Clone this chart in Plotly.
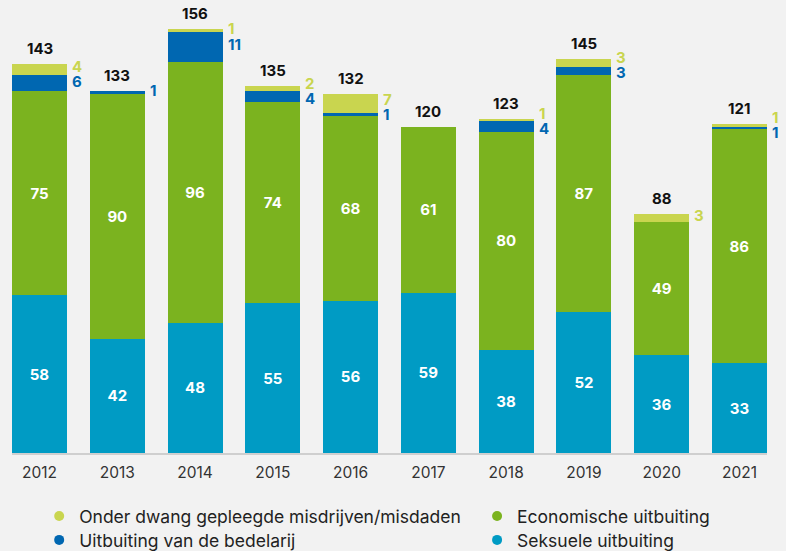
import plotly.graph_objects as go

years = ["2012", "2013", "2014", "2015", "2016", "2017", "2018", "2019", "2020", "2021"]
seksuele = [58, 42, 48, 55, 56, 59, 38, 52, 36, 33]
economische = [75, 90, 96, 74, 68, 61, 80, 87, 49, 86]
bedelarij = [6, 1, 11, 4, 1, 0, 4, 3, 0, 1]
onder_dwang = [4, 0, 1, 2, 7, 0, 1, 3, 3, 1]

names = {
    "od": "Onder dwang gepleegde misdrijven/misdaden",
    "ec": "Economische uitbuiting",
    "bd": "Uitbuiting van de bedelarij",
    "sx": "Seksuele uitbuiting",
}
colors = {"od": "#c9d54f", "ec": "#7bb31f", "bd": "#0067b1", "sx": "#009bc4"}

FONT = "Inter"
BG = "#f2f2f2"

fig = go.Figure()

inner_font = dict(family=FONT, size=15, color="white", weight="bold")

fig.add_trace(go.Bar(x=years, y=seksuele, marker_color=colors["sx"], marker_line_width=0,
                     text=[str(v) for v in seksuele], textposition="inside",
                     insidetextanchor="middle", textangle=0, textfont=inner_font,
                     showlegend=False, hoverinfo="skip", constraintext="none"))
fig.add_trace(go.Bar(x=years, y=economische, marker_color=colors["ec"], marker_line_width=0,
                     text=[str(v) for v in economische], textposition="inside",
                     insidetextanchor="middle", textangle=0, textfont=inner_font,
                     showlegend=False, hoverinfo="skip", constraintext="none"))
fig.add_trace(go.Bar(x=years, y=bedelarij, marker_color=colors["bd"], marker_line_width=0,
                     showlegend=False, hoverinfo="skip"))
fig.add_trace(go.Bar(x=years, y=onder_dwang, marker_color=colors["od"], marker_line_width=0,
                     showlegend=False, hoverinfo="skip"))

# legend-only traces with circle markers, one legend per entry for exact placement
legend_slots = [("od", "legend", 0.036, -0.145),
                ("ec", "legend2", 0.616, -0.145),
                ("bd", "legend3", 0.036, -0.2),
                ("sx", "legend4", 0.616, -0.2)]
for key, leg, _, _ in legend_slots:
    fig.add_trace(go.Scatter(x=[None], y=[None], mode="markers", name=names[key],
                             marker=dict(color=colors[key], size=10, symbol="circle"),
                             legend=leg, showlegend=True, hoverinfo="skip"))

half = 0.354
px_per_unit = 435 / 160
sep = 15 / px_per_unit

annotations = []
for i, yr in enumerate(years):
    total = seksuele[i] + economische[i] + bedelarij[i] + onder_dwang[i]
    annotations.append(dict(x=i, y=total, text=f"<b>{total}</b>", showarrow=False,
                            yanchor="bottom", yshift=4,
                            font=dict(family=FONT, size=15, color="#111111")))
    od_c = total - onder_dwang[i] / 2
    bd_c = seksuele[i] + economische[i] + bedelarij[i] / 2
    od_y, bd_y = od_c, bd_c
    if onder_dwang[i] and bedelarij[i] and (od_c - bd_c) < sep:
        mid = (od_c + bd_c) / 2
        od_y, bd_y = mid + sep / 2, mid - sep / 2
    if onder_dwang[i]:
        annotations.append(dict(x=i + half, y=od_y, text=f"<b>{onder_dwang[i]}</b>", showarrow=False,
                                xanchor="left", yanchor="middle", xshift=3, yshift=2,
                                font=dict(family=FONT, size=15, color=colors["od"])))
    if bedelarij[i]:
        annotations.append(dict(x=i + half, y=bd_y, text=f"<b>{bedelarij[i]}</b>", showarrow=False,
                                xanchor="left", yanchor="middle", xshift=3, yshift=2,
                                font=dict(family=FONT, size=15, color=colors["bd"])))

legend_layout = {}
for key, leg, lx, ly in legend_slots:
    legend_layout[leg] = dict(orientation="v", x=lx, xanchor="left", y=ly, yanchor="middle",
                              bgcolor="rgba(0,0,0,0)", traceorder="normal",
                              font=dict(family=FONT, size=17.5, color="#222222"))

fig.update_layout(
    width=786, height=551,
    barmode="stack", bargap=0.293,
    paper_bgcolor=BG, plot_bgcolor=BG,
    margin=dict(l=12, r=19, t=18, b=98, autoexpand=False),
    font=dict(family=FONT, color="#222222"),
    xaxis=dict(type="category", range=[-half, len(years) - 1 + half], showgrid=False,
               showline=True, linecolor="#cfcfcf", linewidth=2, ticks="outside",
               tickcolor="rgba(0,0,0,0)", ticklen=4,
               tickfont=dict(family=FONT, size=15.5, color="#333333"), fixedrange=True),
    yaxis=dict(range=[0, 160], visible=False, fixedrange=True),
    annotations=annotations,
    **legend_layout,
)

fig.write_html("out.html", config={"displayModeBar": False},
               post_script="document.body.style.margin='0';document.body.style.background='#f2f2f2';")
